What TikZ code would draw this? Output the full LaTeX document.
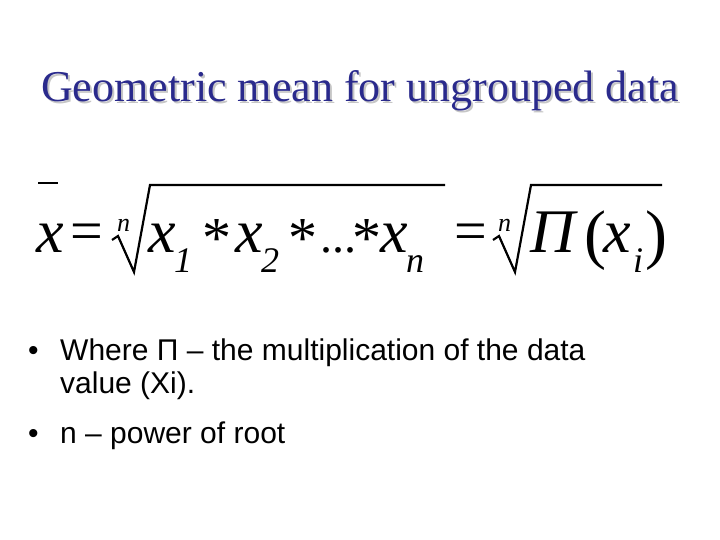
\documentclass[tikz,border=0pt]{standalone}
\usepackage{fontspec}
\setmainfont{Liberation Serif}
\setsansfont{Liberation Sans}
\definecolor{ttl}{HTML}{2A2A8C}
\begin{document}
\begin{tikzpicture}[x=1pt,y=-1pt,
  big/.style={inner sep=0,anchor=base west,font=\fontsize{62}{62}\selectfont\itshape},
  sub/.style={inner sep=0,anchor=base west,font=\fontsize{36}{36}\selectfont\itshape},
  idx/.style={inner sep=0,anchor=base west,font=\fontsize{26}{26}\selectfont\itshape},
  op/.style={inner sep=0,anchor=base west,font=\fontsize{58}{58}\selectfont},
  par/.style={inner sep=0,anchor=base west,font=\fontsize{66}{66}\selectfont},
  rad/.style={line width=2.2pt,line join=miter},
  bul/.style={inner sep=0,anchor=base west,font=\sffamily\fontsize{30}{30}\selectfont}]
\useasboundingbox (0,0) rectangle (720,540);
\node[inner sep=0,text=gray!45,font=\fontsize{44}{44}\selectfont] at (362,93) {Geometric mean for ungrouped data};
\node[inner sep=0,text=ttl,font=\fontsize{44}{44}\selectfont] (title) at (360,91) {Geometric mean for ungrouped data};
% formula
\node[big] (xb) at (36,252) {x};
\draw[line width=2.2pt] (38,183) -- (58,183);
\node[op] (eq1) at (70,250) {=};
\node[idx] (n1) at (117,232) {n};
\draw[rad] (112,240) -- (118,236) -- (134,272) -- (150,185) -- (445,185);
\node[big] (x1) at (148,252) {x};
\node[sub] (s1) at (174,272) {1};
\node[op] (st1) at (202,258) {*};
\node[big] (x2) at (235,252) {x};
\node[sub] (s2) at (261,272) {2};
\node[op] (st2) at (288,258) {*};
\node[op,font=\fontsize{48}{48}\selectfont] (dots) at (320,252) {...};
\node[op] (st3) at (352,258) {*};
\node[big] (xn) at (380,252) {x};
\node[sub] (sn) at (406,272) {n};
\node[op] (eq2) at (454,250) {=};
\node[idx] (n2) at (498,232) {n};
\draw[rad] (493,240) -- (499,236) -- (515,272) -- (531,185) -- (662,185);
\node[big] (pi) at (530,252) {Π};
\node[par] (lp) at (584,256) {(};
\node[big] (xi) at (603,252) {x};
\node[sub] (si) at (633,272) {i};
\node[par] (rp) at (645,256) {)};
% bullets
\node[bul] (b1) at (28,360) {•};
\node[bul] (t1) at (60,360) {Where Π – the multiplication of the data};
\node[bul] (t1b) at (60,393) {value (Xi).};
\node[bul] (b2) at (28,443) {•};
\node[bul] (t2) at (60,443) {n – power of root};
\end{tikzpicture}
\end{document}
